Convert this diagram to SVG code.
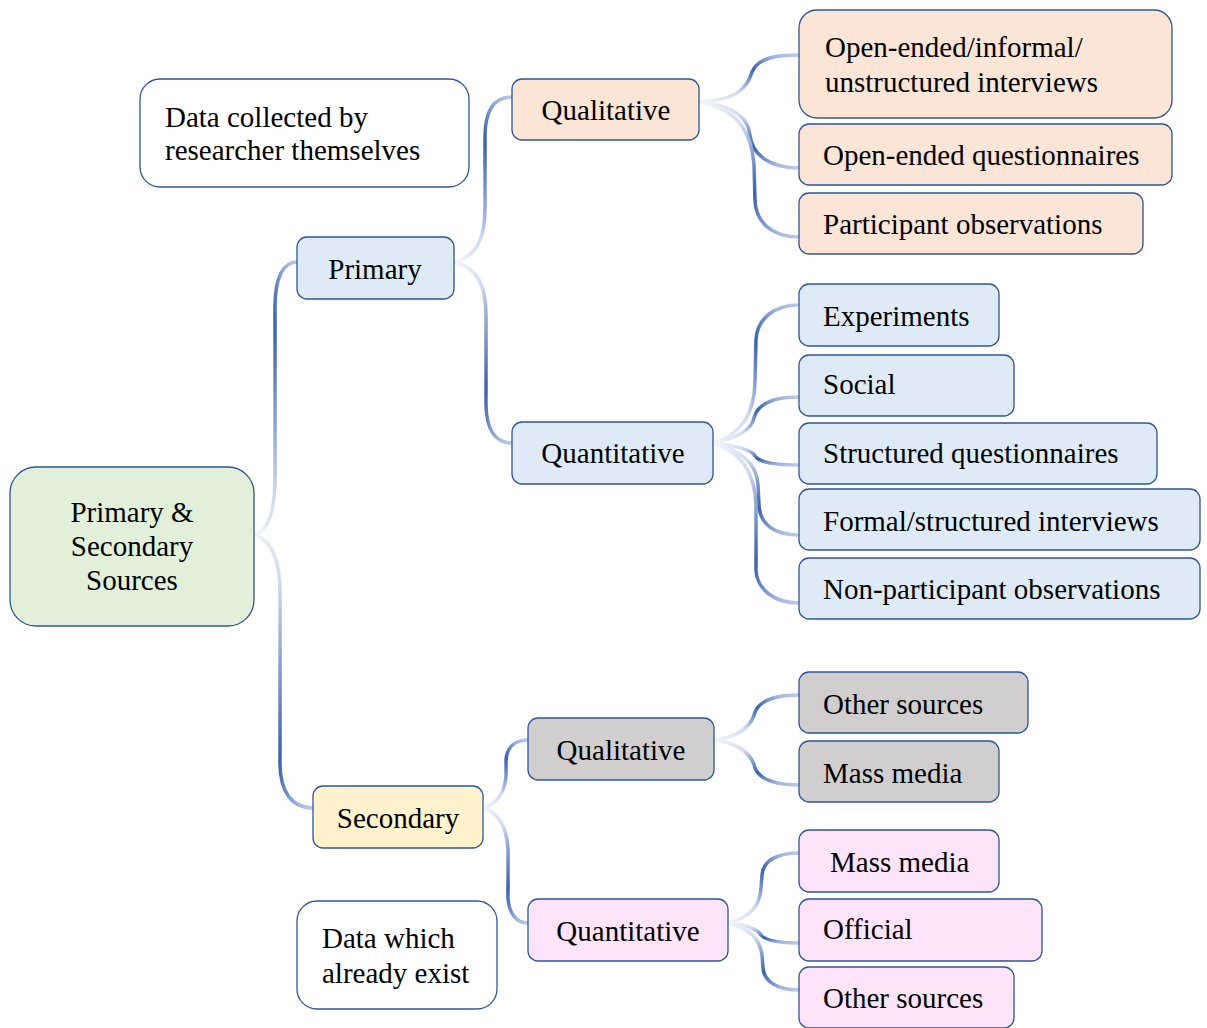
<svg xmlns="http://www.w3.org/2000/svg" width="1207" height="1028" viewBox="0 0 1207 1028">
<defs>
<linearGradient id="gDown" x1="0" y1="0" x2="1" y2="1">
<stop offset="0" stop-color="#f2f5fb"/>
<stop offset="0.3" stop-color="#d0dbf0"/>
<stop offset="0.62" stop-color="#3a62ae"/>
<stop offset="0.85" stop-color="#9db3de"/>
<stop offset="1" stop-color="#bccbe9"/>
</linearGradient>
<linearGradient id="gUp" x1="0" y1="1" x2="1" y2="0">
<stop offset="0" stop-color="#f2f5fb"/>
<stop offset="0.3" stop-color="#d0dbf0"/>
<stop offset="0.62" stop-color="#3a62ae"/>
<stop offset="0.85" stop-color="#9db3de"/>
<stop offset="1" stop-color="#bccbe9"/>
</linearGradient>
</defs>
<style>
.box{stroke:#2f5597;stroke-width:1.3}
.w{fill:#ffffff}.g{fill:#e2f0d9}.p{fill:#fbe5d6}.b{fill:#deebf7}.y{fill:#fff2cc}.k{fill:#d0cece}.m{fill:#fde4fb}
text{font-family:"Liberation Serif","Times New Roman",serif;font-size:29px;fill:#000}
.c{text-anchor:middle}
.dn{fill:none;stroke:url(#gDown);stroke-width:3.5;stroke-linecap:round}
.up{fill:none;stroke:url(#gUp);stroke-width:3.5;stroke-linecap:round}
</style>
<rect width="1207" height="1028" fill="#ffffff"/>
<g id="connectors">
<path class="up" d="M255,535 C269,529 275,511 275,475 L275,307 C275,278 283,262 297,262"/>
<path class="dn" d="M255,535 C272,541 280,559 280,595 L280,763 C280,792 292,808 313,808"/>
<path class="up" d="M455,262 C476,256 485,240 485,207 L485,137 C485,111 494,97 512,97"/>
<path class="dn" d="M455,262 C477,268 486,284 486,317 L486,403 C486,429 495,443 512,443"/>
<path class="up" d="M700,102 C740,100 748,85 752,72 C758,58 775,55 799,55"/>
<path class="dn" d="M700,102 C735,106 748,118 750,135 C752,155 770,168 799,168"/>
<path class="dn" d="M700,102 C740,110 752,135 754,165 L755,200 C756,225 775,237 799,237"/>
<path class="up" d="M713,443 C740,435 755,415 755,380 L756,340 C757,318 775,305 799,305"/>
<path class="up" d="M713,443 C740,438 752,428 754,418 C758,402 775,397 799,397"/>
<path class="dn" d="M713,443 C740,446 752,450 755,456 C760,463 775,465 799,465"/>
<path class="dn" d="M713,443 C742,450 757,465 758,485 L759,505 C760,525 775,535 799,535"/>
<path class="dn" d="M713,443 C742,452 755,475 756,505 L756,570 C757,590 775,603 799,603"/>
<path class="up" d="M484,808 C498,803 505,792 506,775 L506,760 C507,747 515,740 528,740"/>
<path class="dn" d="M484,808 C500,814 507,830 508,850 L508,898 C509,913 516,923 528,923"/>
<path class="up" d="M714,740 C740,737 752,725 755,712 C760,700 775,695 799,695"/>
<path class="dn" d="M714,740 C740,743 752,755 755,768 C760,780 775,785 799,785"/>
<path class="up" d="M728,923 C750,918 760,905 761,888 L762,875 C763,860 778,853 799,853"/>
<path class="dn" d="M728,923 C750,925 758,930 761,935 C766,941 780,943 799,943"/>
<path class="dn" d="M728,923 C750,928 760,940 762,955 L763,968 C764,982 778,990 799,990"/>
</g>
<g id="root"><rect class="box g" x="10" y="467" width="244" height="159" rx="26"/>
<text class="c" x="132" y="522">Primary &amp;</text><text class="c" x="132" y="556">Secondary</text><text class="c" x="132" y="590">Sources</text></g>
<g id="note-primary"><rect class="box w" x="140" y="79" width="329" height="108" rx="20"/>
<text x="165" y="127">Data collected by</text><text x="165" y="160">researcher themselves</text></g>
<g id="primary"><rect class="box b" x="297" y="237" width="157" height="62" rx="10"/><text class="c" x="375" y="279">Primary</text></g>
<g id="qual1"><rect class="box p" x="512" y="79" width="187" height="61" rx="10"/><text class="c" x="606" y="120">Qualitative</text></g>
<g id="open-interviews"><rect class="box p" x="799" y="10" width="373" height="108" rx="18"/>
<text x="825" y="57">Open-ended/informal/</text><text x="825" y="92">unstructured interviews</text></g>
<g id="open-questionnaires"><rect class="box p" x="799" y="124" width="373" height="61" rx="10"/><text x="823" y="165">Open-ended questionnaires</text></g>
<g id="participant"><rect class="box p" x="799" y="193" width="344" height="61" rx="10"/><text x="823" y="234">Participant observations</text></g>
<g id="quant1"><rect class="box b" x="512" y="422" width="201" height="62" rx="10"/><text class="c" x="613" y="463">Quantitative</text></g>
<g id="experiments"><rect class="box b" x="799" y="284" width="200" height="62" rx="10"/><text x="823" y="326">Experiments</text></g>
<g id="social"><rect class="box b" x="799" y="355" width="215" height="61" rx="10"/><text x="823" y="394">Social</text></g>
<g id="structured-q"><rect class="box b" x="799" y="423" width="358" height="61" rx="10"/><text x="823" y="463">Structured questionnaires</text></g>
<g id="formal-interviews"><rect class="box b" x="799" y="489" width="401" height="61" rx="10"/><text x="823" y="531">Formal/structured interviews</text></g>
<g id="non-participant"><rect class="box b" x="799" y="558" width="401" height="61" rx="10"/><text x="823" y="599">Non-participant observations</text></g>
<g id="secondary"><rect class="box y" x="313" y="786" width="170" height="62" rx="10"/><text class="c" x="398" y="828">Secondary</text></g>
<g id="note-secondary"><rect class="box w" x="297" y="901" width="200" height="108" rx="20"/>
<text x="322" y="948">Data which</text><text x="322" y="983">already exist</text></g>
<g id="qual2"><rect class="box k" x="528" y="718" width="186" height="62" rx="10"/><text class="c" x="621" y="760">Qualitative</text></g>
<g id="other1"><rect class="box k" x="799" y="672" width="229" height="61" rx="10"/><text x="823" y="714">Other sources</text></g>
<g id="mass1"><rect class="box k" x="799" y="741" width="200" height="61" rx="10"/><text x="823" y="783">Mass media</text></g>
<g id="quant2"><rect class="box m" x="528" y="899" width="200" height="62" rx="10"/><text class="c" x="628" y="941">Quantitative</text></g>
<g id="mass2"><rect class="box m" x="799" y="830" width="200" height="62" rx="10"/><text x="830" y="872">Mass media</text></g>
<g id="official"><rect class="box m" x="799" y="899" width="243" height="62" rx="10"/><text x="823" y="939">Official</text></g>
<g id="other2"><rect class="box m" x="799" y="967" width="215" height="61" rx="10"/><text x="823" y="1008">Other sources</text></g>
</svg>
